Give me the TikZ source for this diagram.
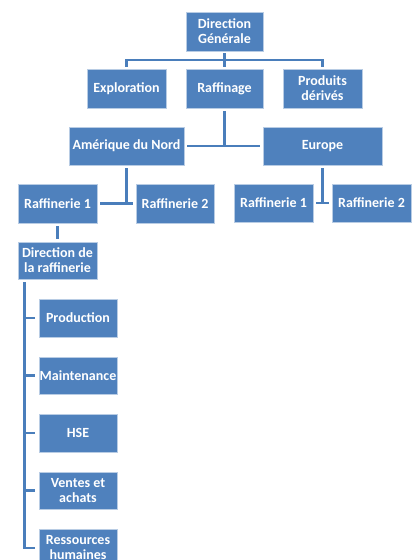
\documentclass[tikz,border=0pt]{standalone}
\usepackage{fontspec}
\setmainfont{Carlito}
\usetikzlibrary{calc}
\definecolor{boxblue}{HTML}{4F81BD}
\definecolor{boxedge}{HTML}{B8CCE4}
\definecolor{linecol}{HTML}{4A7EBB}
\tikzset{
  orgbox/.style={rectangle, fill=boxblue, draw=boxedge, line width=0.6pt,
    minimum height=38pt, inner sep=0pt, align=center, text=white,
    font=\fontsize{14}{15}\selectfont\bfseries},
  conn/.style={draw=linecol, line width=2.6pt},
}
\begin{document}
\begin{tikzpicture}[x=1pt,y=-1pt]
\path[use as bounding box] (0,0) rectangle (415,560);
\fill[white] (0,0) rectangle (415,560);
\clip (0,0) rectangle (415,560);
% level 0-1
\node[orgbox, minimum width=77pt, minimum height=39pt] (dg) at (224.5,31.5) {Direction\\Générale};
\node[orgbox, minimum width=79pt, minimum height=39pt] (expl) at (126.5,88.5) {Exploration};
\node[orgbox, minimum width=77pt, minimum height=39pt] (raff) at (224.5,88.5) {Raffinage};
\node[orgbox, minimum width=79pt, minimum height=39pt] (prod) at (322.5,88.5) {Produits\\dérivés};
% level 2
\node[orgbox, minimum width=115pt] (amn) at (126.5,146) {Amérique du Nord};
\node[orgbox, minimum width=119pt] (eur) at (322.5,146) {Europe};
% level 3
\node[orgbox, minimum width=79pt, minimum height=39pt] (r1a) at (57.5,203.5) {Raffinerie 1};
\node[orgbox, minimum width=78pt, minimum height=39pt] (r2a) at (175,203.5) {Raffinerie 2};
\node[orgbox, minimum width=79pt] (r1e) at (273.5,203) {Raffinerie 1};
\node[orgbox, minimum width=79pt] (r2e) at (371.5,203) {Raffinerie 2};
% level 4
\node[orgbox, minimum width=79pt, minimum height=37pt] (ddr) at (57.5,260.5) {Direction de\\la raffinerie};
\node[orgbox, minimum width=78pt] (pro) at (78,318) {Production};
\node[orgbox, minimum width=78pt, minimum height=37pt] (mai) at (78,375.5) {Maintenance};
\node[orgbox, minimum width=78pt] (hse) at (78,433) {HSE};
\node[orgbox, minimum width=78pt, minimum height=37pt] (ven) at (78,490.5) {Ventes et\\achats};
\node[orgbox, minimum width=78pt] (rh) at (78,548) {Ressources\\humaines};
% connectors
\coordinate (bus) at ($(dg.south)!0.5!(raff.north)$);
\draw[conn, shorten <=2pt, shorten >=2pt] (dg.south) -- (raff.north);
\draw[conn, shorten <=2pt, shorten >=2pt] (expl.north) |- (bus) -| (prod.north);
\draw[conn, shorten <=3pt] (raff.south) -- (raff.south |- amn.east);
\draw[conn, shorten <=3pt, shorten >=3pt] (amn.east) -- (eur.west);
\draw[conn, shorten <=3pt] (amn.south) -- (amn.south |- r1a.east);
\draw[conn, shorten <=3pt, shorten >=3pt] (r1a.east) -- (r2a.west);
\draw[conn, shorten <=3pt] (eur.south) -- (eur.south |- r1e.east);
\draw[conn, shorten <=3pt, shorten >=3pt] (r1e.east) -- (r2e.west);
\draw[conn, shorten <=3pt, shorten >=3pt] (r1a.south) -- (ddr.north);
\coordinate (spine) at ([xshift=7pt,yshift=-3pt]ddr.south west);
\draw[conn, shorten >=4pt] (spine) |- (rh.west);
\foreach \n in {pro,mai,hse,ven}{
  \draw[conn, shorten >=4pt] (spine |- \n.west) -- (\n.west);
}
\end{tikzpicture}
\end{document}
